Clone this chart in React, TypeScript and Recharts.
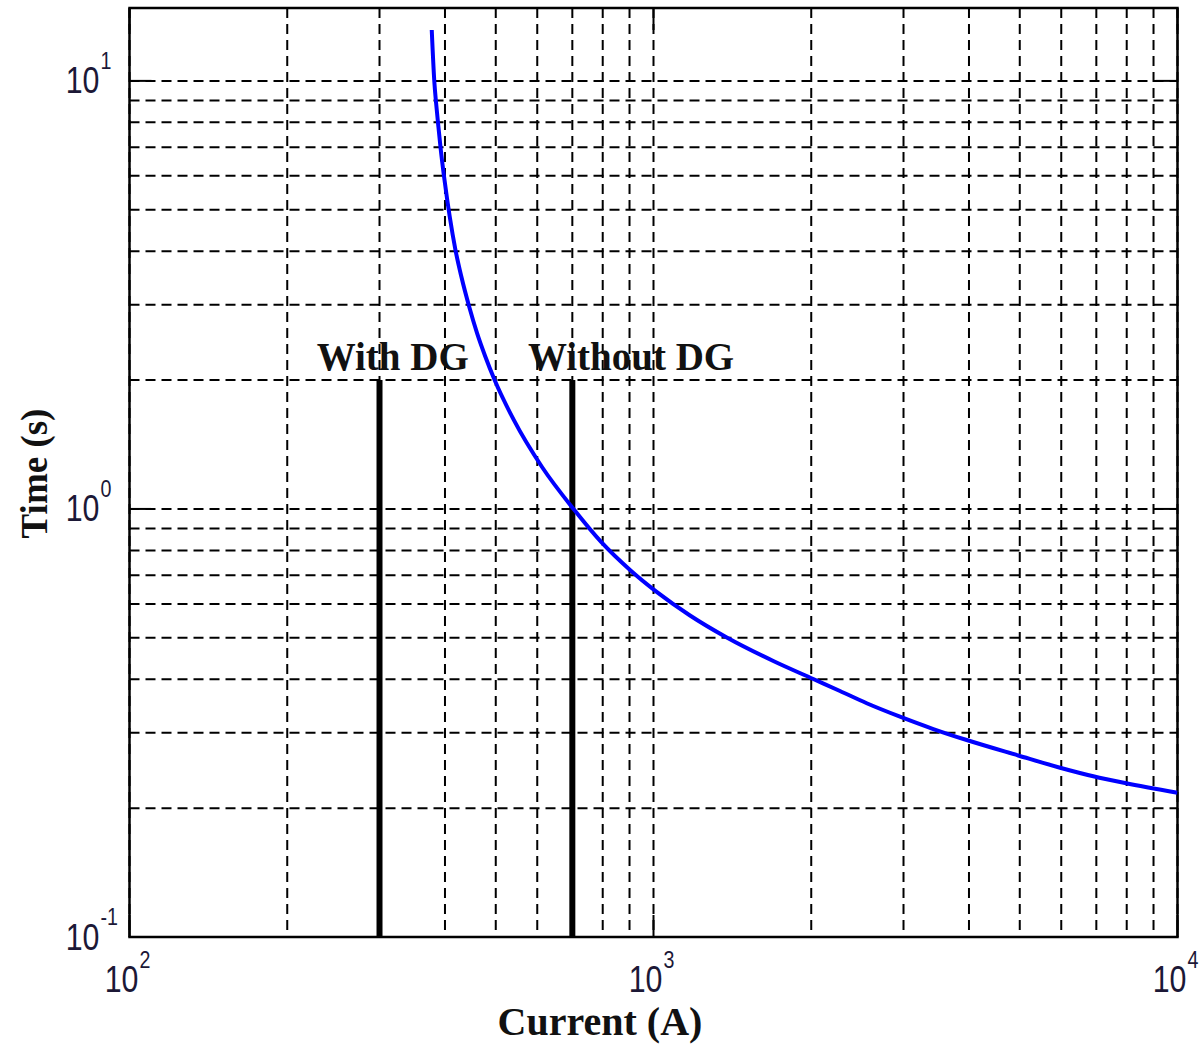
import React from 'react';
import {
  ComposedChart,
  Line,
  XAxis,
  YAxis,
  CartesianGrid,
  ReferenceDot,
  ReferenceArea,
} from 'recharts';

// ---- data ----
const currentA = [
  377.4, 381.7, 384.7, 388.3, 392.4, 398.0, 404.0, 408.4, 418.8, 429.8, 444.8, 460.7, 477.5, 497.5,
  541.2, 612.7, 706.3, 796, 902, 1014, 1174, 1380, 1693, 2018, 2269, 2552, 2954, 3420, 3960, 4968,
  5969, 6908, 7940, 10000,
];
const timeS = [
  13.15, 9.96, 8.87, 7.89, 6.96, 6.03, 5.27, 4.82, 4.03, 3.49, 2.97, 2.57, 2.27, 2.0,
  1.614, 1.253, 0.994, 0.835, 0.72, 0.64, 0.5637, 0.5008, 0.4413, 0.4006, 0.3756, 0.3516, 0.3271,
  0.3061, 0.2885, 0.2655, 0.2486, 0.2374, 0.2289, 0.2173,
];

const xTicks = [100, 200, 300, 400, 500, 600, 700, 800, 900, 1000, 2000, 3000, 4000, 5000, 6000, 7000, 8000, 9000, 10000];
const yTicks = [0.1, 0.2, 0.3, 0.4, 0.5, 0.6, 0.7, 0.8, 0.9, 1, 2, 3, 4, 5, 6, 7, 8, 9, 10];

const xDomain = [100, 10000];
const yDomain = [0.1, 14.8];

const markerCurrents = [300, 700];
const markerTimes = [0.1, 2];
const annotationLabels = ['With DG', 'Without DG'];
const annotationCurrents = [318, 906];
const annotationTime = 2.11;

const xTitle = 'Current (A)';
const yTitle = 'Time (s)';

// ---- layout ----
const W = 1203;
const H = 1045;
const PLOT_LEFT = 129.5;
const PLOT_RIGHT = 1177.5;
const PLOT_TOP = 8;
const PLOT_BOTTOM = 937;

const TICK_COLOR = '#1c1836';
const SANS = "'Liberation Sans', Arial, sans-serif";
const SERIF = "'Liberation Serif', 'Times New Roman', serif";

const curveData = currentA.map((c, i) => ({ current: c, time: timeS[i] }));
const markerData = markerCurrents.map((c) => markerTimes.map((t) => ({ current: c, time: t })));

const decadeExp = (v: number): number | null => {
  const e = Math.round(Math.log10(v));
  const d = Math.pow(10, e);
  return Math.abs(v - d) < 1e-9 * d ? e : null;
};

function YTick(props: any) {
  const { y, payload } = props;
  const e = decadeExp(payload.value);
  if (e === null) return <g />;
  return (
    <g>
      <line x1={PLOT_LEFT} x2={PLOT_LEFT + 22} y1={y} y2={y} stroke="#000" strokeWidth={2} />
      <line x1={PLOT_RIGHT - 22} x2={PLOT_RIGHT} y1={y} y2={y} stroke="#000" strokeWidth={2} />
      <text
        transform={`translate(${PLOT_LEFT - 30},${y + 12.5}) scale(0.82,1)`}
        textAnchor="end"
        fontSize={37}
        fontFamily={SANS}
        fill={TICK_COLOR}
      >
        10
      </text>
      <text
        transform={`translate(${PLOT_LEFT - 29},${y - 12}) scale(0.82,1)`}
        textAnchor="start"
        fontSize={24}
        fontFamily={SANS}
        fill={TICK_COLOR}
      >
        {String(e)}
      </text>
    </g>
  );
}

function XTick(props: any) {
  const { x, payload } = props;
  const e = decadeExp(payload.value);
  if (e === null) return <g />;
  return (
    <g>
      <line x1={x} x2={x} y1={PLOT_BOTTOM} y2={PLOT_BOTTOM - 22} stroke="#000" strokeWidth={2} />
      <line x1={x} x2={x} y1={PLOT_TOP} y2={PLOT_TOP + 22} stroke="#000" strokeWidth={2} />
      <text
        transform={`translate(${x + 9},${PLOT_BOTTOM + 55}) scale(0.82,1)`}
        textAnchor="end"
        fontSize={37}
        fontFamily={SANS}
        fill={TICK_COLOR}
      >
        10
      </text>
      <text
        transform={`translate(${x + 10},${PLOT_BOTTOM + 30.5}) scale(0.82,1)`}
        textAnchor="start"
        fontSize={24}
        fontFamily={SANS}
        fill={TICK_COLOR}
      >
        {String(e)}
      </text>
    </g>
  );
}

function XTitle(props: any) {
  const vb = props.viewBox || { x: PLOT_LEFT, y: PLOT_BOTTOM, width: PLOT_RIGHT - PLOT_LEFT, height: H - PLOT_BOTTOM };
  const cx = vb.x + 470.5;
  const by = vb.y + 98;
  return (
    <text x={cx} y={by} textAnchor="middle" fontSize={40} fontWeight="bold" fontFamily={SERIF} fill="#111">
      {xTitle}
    </text>
  );
}

function YTitle(props: any) {
  const vb = props.viewBox || { x: 0, y: PLOT_TOP, width: PLOT_LEFT, height: PLOT_BOTTOM - PLOT_TOP };
  const bx = vb.x + 47;
  const cy = vb.y + vb.height / 2 + 1;
  return (
    <text
      x={bx}
      y={cy}
      transform={`rotate(-90, ${bx}, ${cy})`}
      textAnchor="middle"
      fontSize={37}
      fontWeight="bold"
      fontFamily={SERIF}
      fill="#111"
    >
      {yTitle}
    </text>
  );
}

export default function App() {
  return (
    <div style={{ position: 'absolute', left: 0, top: 0, width: W, height: H, background: '#fff' }}>
      <ComposedChart
        width={W}
        height={H}
        data={curveData}
        margin={{ top: PLOT_TOP, right: W - PLOT_RIGHT, bottom: 0, left: 0 }}
      >
        <CartesianGrid stroke="#000" strokeWidth={2} strokeDasharray="10 6" />
        <XAxis
          dataKey="current"
          type="number"
          scale="log"
          domain={xDomain}
          ticks={xTicks}
          interval={0}
          allowDataOverflow
          height={H - PLOT_BOTTOM}
          axisLine={false}
          tickLine={false}
          tick={<XTick />}
          label={<XTitle />}
        />
        <YAxis
          type="number"
          scale="log"
          domain={yDomain}
          ticks={yTicks}
          interval={0}
          allowDataOverflow
          width={PLOT_LEFT}
          axisLine={false}
          tickLine={false}
          tick={<YTick />}
          label={<YTitle />}
        />
        <ReferenceArea
          x1={xDomain[0]}
          x2={xDomain[1]}
          y1={yDomain[0]}
          y2={yDomain[1]}
          fill="none"
          fillOpacity={0}
          stroke="#000"
          strokeWidth={2.5}
          ifOverflow="visible"
        />
        {markerData.map((d, i) => (
          <Line
            key={`m${i}`}
            data={d}
            dataKey="time"
            type="linear"
            stroke="#000"
            strokeWidth={6}
            dot={false}
            activeDot={false}
            isAnimationActive={false}
          />
        ))}
        <Line
          dataKey="time"
          type="monotone"
          stroke="#0000ff"
          strokeWidth={4}
          dot={false}
          activeDot={false}
          isAnimationActive={false}
        />
        {annotationLabels.map((lbl, i) => (
          <ReferenceDot
            key={`a${i}`}
            x={annotationCurrents[i]}
            y={annotationTime}
            r={0}
            ifOverflow="visible"
            shape={(p: any) => (
              <text
                x={p.cx}
                y={p.cy}
                textAnchor="middle"
                fontSize={39}
                fontWeight="bold"
                fontFamily={SERIF}
                fill="#111"
              >
                {lbl}
              </text>
            )}
          />
        ))}
      </ComposedChart>
    </div>
  );
}
